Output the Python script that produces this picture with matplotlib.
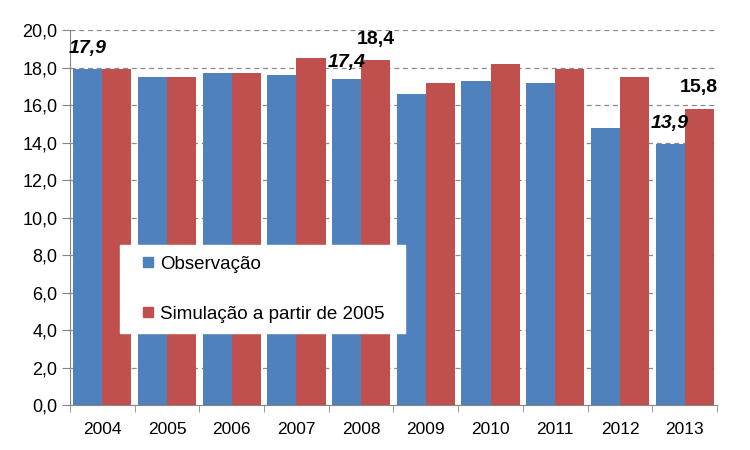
import numpy as np
import matplotlib
matplotlib.use("Agg")
import matplotlib.pyplot as plt
from matplotlib.lines import Line2D

plt.rcParams["font.family"] = ["Liberation Sans", "DejaVu Sans"]

years = ["2004", "2005", "2006", "2007", "2008", "2009", "2010", "2011", "2012", "2013"]
observacao = [17.9, 17.5, 17.7, 17.6, 17.4, 16.6, 17.3, 17.2, 14.8, 13.9]
simulacao = [17.9, 17.5, 17.7, 18.5, 18.4, 17.2, 18.2, 17.9, 17.5, 15.8]
obs_labeled = [0, 4, 9]
sim_labeled = [4, 9]
series_names = ["Observação", "Simulação a partir de 2005"]

BLUE = "#4f81bd"
RED = "#c0504d"

fig = plt.figure(figsize=(7.5, 4.5), dpi=100)
ax = fig.add_axes([0.0933, 0.1, 0.8627, 0.8333])

x = np.arange(len(years))
w = 0.45
ax.bar(x - w / 2, observacao, w, color=BLUE, zorder=2)
ax.bar(x + w / 2, simulacao, w, color=RED, zorder=2)

# data labels: observations italic, simulation upright
for i in obs_labeled:
    off = 12 if i == 4 else 15
    ax.annotate(f"{observacao[i]:.1f}".replace(".", ","), (x[i] - w / 2, observacao[i]),
                xytext=(0, off), textcoords="offset points", ha="center", va="center",
                fontsize=14, fontweight="bold", fontstyle="italic", zorder=3)
for i in sim_labeled:
    ax.annotate(f"{simulacao[i]:.1f}".replace(".", ","), (x[i] + w / 2, simulacao[i]),
                xytext=(0, 15), textcoords="offset points", ha="center", va="center",
                fontsize=14, fontweight="bold", zorder=3)

ax.set_xlim(-0.5, len(years) - 0.5)
ax.set_ylim(0, 20)
yt = np.arange(0, 21, 2)
ax.set_yticks(yt)
ax.set_yticklabels([f"{v:.1f}".replace(".", ",") for v in yt])
ax.set_xticks(x)
ax.set_xticklabels(years)
ax.set_xticks(np.arange(-0.5, len(years), 1), minor=True)
ax.tick_params(axis="x", which="major", length=0, pad=12, labelsize=12.5)
ax.tick_params(axis="x", which="minor", length=5, color="#868686")
ax.tick_params(axis="y", length=6, color="#868686", labelsize=13, pad=3)

ax.yaxis.grid(True, linestyle=(0, (4, 3)), color="#8c8c8c", linewidth=0.9, zorder=0)
ax.set_axisbelow(True)
for s in ["top", "right"]:
    ax.spines[s].set_visible(False)
for s in ["left", "bottom"]:
    ax.spines[s].set_color("#868686")

handles = [Line2D([], [], linestyle="none", marker="s", markersize=7.5,
                  markerfacecolor=c, markeredgecolor=c) for c in (BLUE, RED)]
leg = ax.legend(handles, series_names, loc="lower left",
                bbox_to_anchor=(0.077, 0.192, 0.441, 0.235), mode="expand",
                frameon=True, fancybox=False, framealpha=1, edgecolor="white",
                handlelength=1.9, labelspacing=1.75, fontsize=13.5,
                handletextpad=-0.3, borderpad=0.55, borderaxespad=0)
leg.set_zorder(4)

fig.savefig("out.png", dpi=100)
